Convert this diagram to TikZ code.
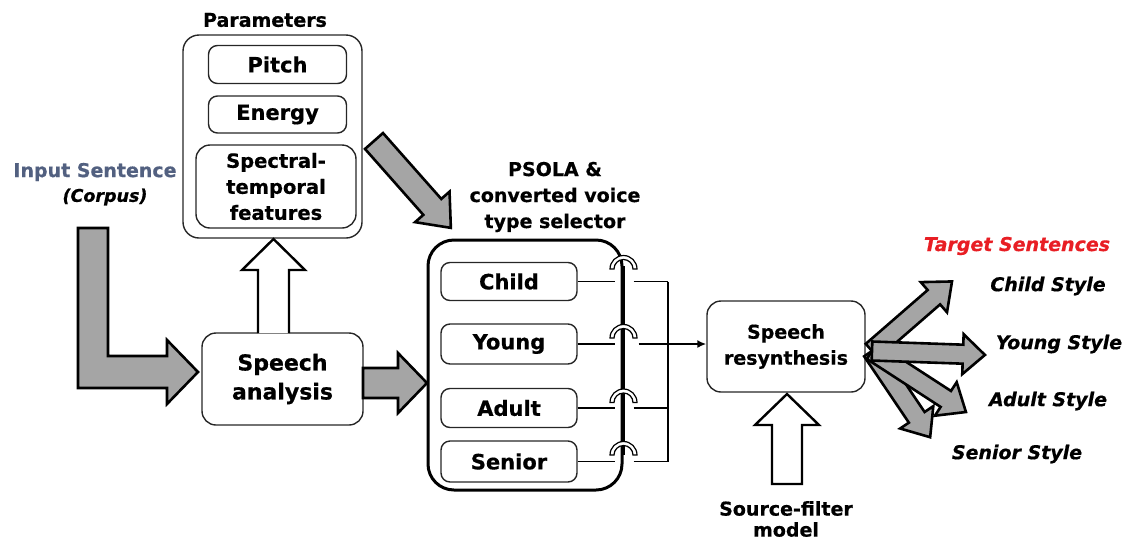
\documentclass[tikz,border=0pt]{standalone}
\usepackage{fontspec}
\setmainfont{DejaVu Sans}[BoldFont=DejaVu Sans Bold,ItalicFont=DejaVu Sans Oblique,BoldItalicFont=DejaVu Sans Bold Oblique,BoldFeatures={FakeBold=0.6},BoldItalicFeatures={FakeBold=0.6}]
\usetikzlibrary{calc,arrows.meta}
\definecolor{arrowgray}{RGB}{165,165,165}
\definecolor{inputblue}{RGB}{82,96,128}
\definecolor{targetred}{RGB}{232,30,36}
\newcommand\rotarrow[6]{%
  \begin{scope}[shift={(#1)},rotate=#2]
    \draw[grayblock] (0,-#4) -- ({#3-#6},-#4) -- ({#3-#6},-#5) -- (#3,0) -- ({#3-#6},#5) -- ({#3-#6},#4) -- (0,#4) -- cycle;
  \end{scope}}
\begin{document}
\begin{tikzpicture}[x=1pt,y=-1pt,
  lbl/.style={font=\fontsize{19}{26}\selectfont\bfseries,align=center,inner sep=0pt},
  box/.style={draw=black!85,line width=1.4pt,rounded corners=9pt,minimum width=136pt,inner sep=0pt,lbl},
  bigbox/.style={draw=black!85,line width=1.4pt,rounded corners=16pt,inner sep=0pt,lbl},
  grayblock/.style={draw=black,line width=2.6pt,fill=arrowgray,line join=miter},
  hollow/.style={draw=black,line width=2.4pt,fill=white,line join=miter},
  wire/.style={line width=1.9pt},
  hop/.style={draw=black,line width=1.2pt,fill=white},
  sty/.style={font=\fontsize{19}{22}\selectfont\bfseries\itshape,inner sep=0pt}]
\useasboundingbox (0,0) rectangle (1128,542);

% Parameters block
\node[bigbox,minimum width=179pt,minimum height=203pt] (params) at (272.5,136.5) {};
\node[lbl] (paramlbl) at (265,20) {Parameters};
\node[box,font=\fontsize{21}{26}\selectfont\bfseries,minimum width=138pt,minimum height=38pt] (pitch) at (277.5,64.5) {Pitch};
\node[box,font=\fontsize{21}{26}\selectfont\bfseries,minimum width=138pt,minimum height=37pt] (energy) at (277.5,114.5) {Energy};
\node[box,font=\fontsize{19.5}{26}\selectfont\bfseries,rounded corners=14pt,minimum width=160pt,minimum height=83pt] (spec) at (276,186.5) {Spectral-\\temporal\\features};

% Input
\node[lbl,text=inputblue] (input) at (95,172) {Input Sentence};
\node[lbl,font=\fontsize{17.5}{20}\selectfont\bfseries\itshape] (corpus) at (105,197) {(Corpus)};

% Speech analysis
\node[bigbox,font=\fontsize{22}{29}\selectfont\bfseries,minimum width=161pt,minimum height=92pt,rounded corners=14pt] (analysis) at (282.5,379) {Speech\\analysis};

% L-shaped arrow input -> analysis
\draw[grayblock] (78,228) -- (108,228) -- (108,356) -- (167,356) -- (167,340) -- (198,372) -- (167,404) -- (167,388) -- (78,388) -- cycle;

% hollow arrow analysis -> params
\draw[hollow] (258,333) -- (258,270) -- (242,270) -- (273.5,239) -- (305,270) -- (289,270) -- (289,333);

% analysis -> selector
\draw[grayblock] (363,368) -- (398,368) -- (398,353) -- (427,383) -- (398,413) -- (398,398) -- (363,398) -- cycle;

% params -> selector diagonal
\coordinate (diagtail) at (374,141);
\rotarrow{diagtail}{-48.5}{116}{12}{23}{28}

% Selector
\node[lbl] (psola) at (555,197) {PSOLA \&\\converted voice\\type selector};
\node[draw=black,line width=3pt,rounded corners=26pt,minimum width=194pt,minimum height=250pt] (sel) at (525,365) {};
\node[box,font=\fontsize{21}{26}\selectfont\bfseries,minimum height=38pt] (child) at (509,281.5) {Child};
\node[box,font=\fontsize{21}{26}\selectfont\bfseries,minimum height=40pt] (young) at (509,344) {Young};
\node[box,font=\fontsize{21}{26}\selectfont\bfseries,minimum height=39pt] (adult) at (509,408) {Adult};
\node[box,font=\fontsize{21}{26}\selectfont\bfseries,minimum height=41pt] (senior) at (509,461.5) {Senior};

% switch bus
\coordinate (bus) at (668,0);
\draw[wire] (624,266) -- (624,455);
\foreach \n/\b in {child/269,young/338,adult/402.5,senior/455}{
  \draw[wire] (\n.east) -- ($(\n.east)+(37,0)$);
  \draw[hop] (610,\b) arc[start angle=180,end angle=360,radius=13.5] -- (633,\b) arc[start angle=360,end angle=180,radius=9.5] -- cycle;
}
\draw[wire] ($(child.east)+(56,0)$) -- (bus |- child.east);
\draw[wire] ($(adult.east)+(56,0)$) -- (bus |- adult.east);
\draw[wire] ($(senior.east)+(56,0)$) -- (bus |- senior.east);
\draw[wire] (bus |- child.east) -- (bus |- senior.east);

% Speech resynthesis
\node[bigbox,minimum width=158pt,minimum height=91pt,rounded corners=14pt] (resyn) at (786,346.5) {Speech\\resynthesis};
\draw[wire,-{Latex[length=9pt,width=8pt]}] ($(young.east)+(61,0)$) -- (resyn.west |- young.east);

% source-filter
\draw[hollow] (772,484) -- (772,425) -- (755,425) -- (787,394) -- (819,425) -- (802,425) -- (802,484) -- cycle;
\node[lbl,font=\fontsize{19}{21}\selectfont\bfseries] (source) at (786,519) {Source-filter\\model};

% Target arrows
\coordinate (fan) at (872,351);
\rotarrow{fan}{41}{106}{9.5}{20}{24}
\rotarrow{fan}{-56}{104}{9.5}{20}{24}
\rotarrow{fan}{-33}{112}{9.5}{20}{24}
\rotarrow{fan}{-2}{113}{9.5}{20}{22}

\node[sty,text=targetred] (target) at (1017,246) {Target Sentences};
\node[sty] (cs) at (1048,286) {Child Style};
\node[sty] (ys) at (1059,344) {Young Style};
\node[sty] (as) at (1048,401) {Adult Style};
\node[sty] (ss) at (1017,454) {Senior Style};
\end{tikzpicture}
\end{document}
